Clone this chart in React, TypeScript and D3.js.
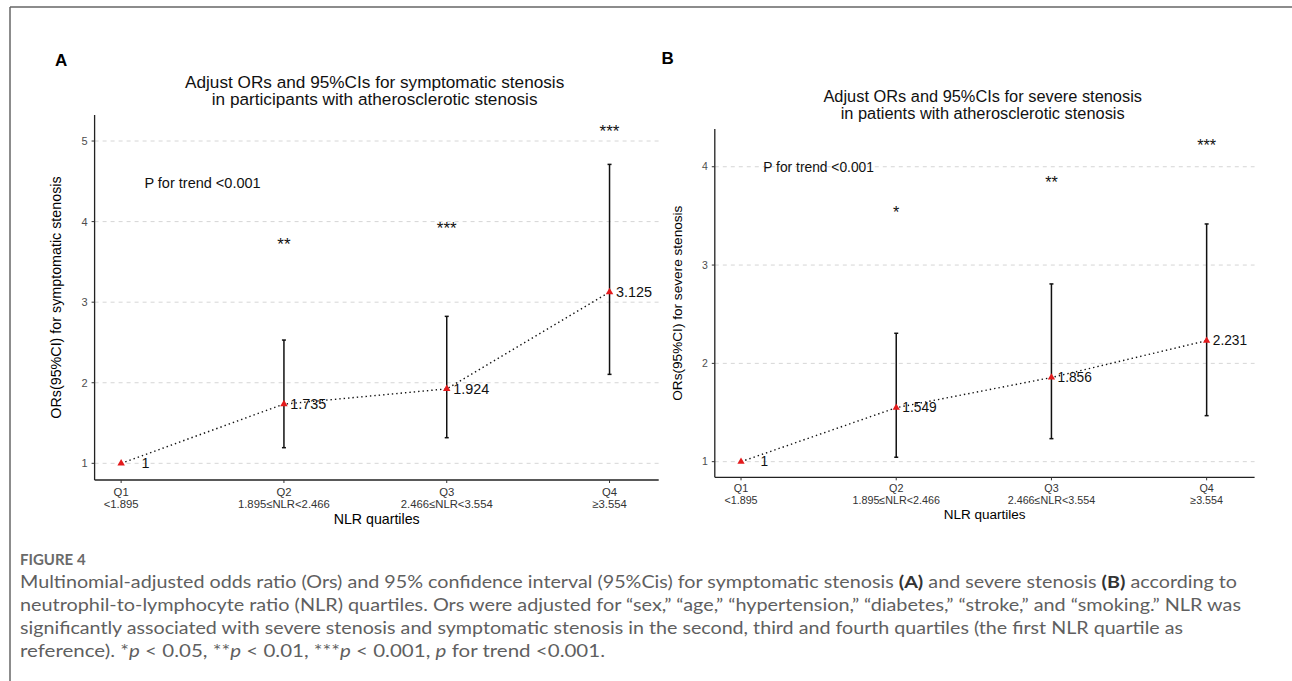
import React from "react";
import * as d3 from "d3";

const W = 1292;
const H = 681;

const quartiles = ["Q1", "Q2", "Q3", "Q4"];
const nlrRanges = ["<1.895", "1.895≤NLR<2.466", "2.466≤NLR<3.554", "≥3.554"];

// panel A - symptomatic stenosis
const orSymptomatic = [1, 1.735, 1.924, 3.125];
const lowSymptomatic = [1, 1.194, 1.318, 2.104];
const highSymptomatic = [1, 2.53, 2.824, 4.71];
const starsSymptomatic = ["", "**", "***", "***"];
const starYSymptomatic = [0, 3.77, 3.965, 5.164];
const ticksSymptomatic = [1, 2, 3, 4, 5];

// panel B - severe stenosis
const orSevere = [1, 1.549, 1.856, 2.231];
const lowSevere = [1, 1.045, 1.234, 1.468];
const highSevere = [1, 2.306, 2.808, 3.418];
const starsSevere = ["", "*", "**", "***"];
const starYSevere = [0, 3.58, 3.883, 4.256];
const ticksSevere = [1, 2, 3, 4];

const trendText = "P for trend <0.001";
const trendPos = [1.5, 4.48, 4.0]; // x, y(A), y(B)

const FONT = "'Liberation Sans', Arial, sans-serif";

let Panel = (props) => {
  let { p, or, low, high, stars, starY, ticks, trendY } = props;
  let k = p.k;
  let x = d3.scaleLinear().domain(p.xDom).range([p.left, p.right]);
  let y = d3.scaleLinear().domain(p.yDom).range([p.bottom, p.top]);
  let idx = quartiles.map((q, i) => i + 1);

  let line = d3
    .line()
    .x((d, i) => x(i + 1))
    .y((d) => y(d));

  let tri = d3.symbol(d3.symbolTriangle).size(24 * k)();

  return (
    <g fontFamily={FONT}>
      <text x={p.letterX} y={p.letterY} fontSize={17} fontWeight="bold" dominantBaseline="central">
        {p.letter}
      </text>
      {p.title.map((t, i) => (
        <text
          key={t}
          x={(p.left + p.right) / 2 - 2}
          y={p.top - 33.3 + i * 17.6}
          fontSize={17.2 * k}
          textAnchor="middle"
          dominantBaseline="central"
          fill="#111"
        >
          {t}
        </text>
      ))}

      {/* grid */}
      {ticks.map((t) => (
        <line
          key={"g" + t}
          x1={p.left}
          x2={p.right}
          y1={y(t)}
          y2={y(t)}
          stroke="#d6d6d6"
          strokeWidth={1}
          strokeDasharray="4,4"
        />
      ))}

      {/* axes */}
      <line x1={p.left} x2={p.left} y1={p.top} y2={p.bottom} stroke="#222" strokeWidth={1.3} />
      <line x1={p.left} x2={p.right} y1={p.bottom} y2={p.bottom} stroke="#222" strokeWidth={1.3} />
      {ticks.map((t) => (
        <g key={"t" + t}>
          <line x1={p.left - 3} x2={p.left} y1={y(t)} y2={y(t)} stroke="#333" />
          <text
            x={p.left - 7}
            y={y(t)}
            fontSize={11 * k}
            textAnchor="end"
            dominantBaseline="central"
            fill="#4d4d4d"
          >
            {t}
          </text>
        </g>
      ))}
      {idx.map((i) => (
        <g key={"x" + i}>
          <line x1={x(i)} x2={x(i)} y1={p.bottom} y2={p.bottom + 3} stroke="#333" />
          <text x={x(i)} y={p.bottom + 11.5 * k} fontSize={11.3 * k} textAnchor="middle" dominantBaseline="central" fill="#333">
            {quartiles[i - 1]}
          </text>
          <text x={x(i)} y={p.bottom + 23.5 * k} fontSize={11.3 * k} textAnchor="middle" dominantBaseline="central" fill="#333">
            {nlrRanges[i - 1]}
          </text>
        </g>
      ))}
      <text
        x={(p.left + p.right) / 2}
        y={p.bottom + 39.3 * k}
        fontSize={14.2 * k}
        textAnchor="middle"
        dominantBaseline="central"
      >
        NLR quartiles
      </text>
      <text
        transform={`translate(${p.yLabX},${(p.top + p.bottom) / 2}) rotate(-90)`}
        fontSize={14.3 * k}
        textAnchor="middle"
        dominantBaseline="central"
      >
        {p.yLabel}
      </text>

      {/* error bars */}
      {idx.map((i) =>
        high[i - 1] > low[i - 1] ? (
          <g key={"e" + i} stroke="#111" strokeWidth={1.5}>
            <line x1={x(i)} x2={x(i)} y1={y(low[i - 1])} y2={y(high[i - 1])} />
            <line x1={x(i) - 2} x2={x(i) + 2} y1={y(low[i - 1])} y2={y(low[i - 1])} />
            <line x1={x(i) - 2} x2={x(i) + 2} y1={y(high[i - 1])} y2={y(high[i - 1])} />
          </g>
        ) : null
      )}

      <path d={line(or)} fill="none" stroke="#111" strokeWidth={1.4} strokeDasharray="1.4,3" />

      {idx.map((i) => (
        <path key={"m" + i} d={tri} transform={`translate(${x(i)},${y(or[i - 1])})`} fill="#e31a1c" />
      ))}

      {idx.map((i) => (
        <text
          key={"l" + i}
          x={x(i + 0.15)}
          y={y(or[i - 1])}
          fontSize={14.4 * k}
          textAnchor="middle"
          dominantBaseline="central"
          fill="#111"
        >
          {or[i - 1]}
        </text>
      ))}

      {idx.map((i) =>
        stars[i - 1] ? (
          <text
            key={"s" + i}
            x={x(i)}
            y={y(starY[i - 1]) + 4 * k}
            fontSize={17 * k}
            textAnchor="middle"
            dominantBaseline="central"
            fill="#111"
          >
            {stars[i - 1]}
          </text>
        ) : null
      )}

      <text
        x={x(trendPos[0])}
        y={y(trendY)}
        fontSize={14.5 * k}
        textAnchor="middle"
        dominantBaseline="central"
        fill="#111"
      >
        {trendText}
      </text>
    </g>
  );
};

const panelA = {
  letter: "A",
  letterX: 55,
  letterY: 60,
  title: [
    "Adjust ORs and 95%CIs for symptomatic stenosis",
    "in participants with atherosclerotic stenosis",
  ],
  yLabel: "ORs(95%CI) for symptomatic stenosis",
  yLabX: 55.5,
  left: 94.6,
  right: 658.7,
  top: 115,
  bottom: 480,
  xDom: [0.837, 4.302],
  yDom: [0.793, 5.323],
  k: 1,
};

const panelB = {
  letter: "B",
  letterX: 661.6,
  letterY: 58.3,
  title: [
    "Adjust ORs and 95%CIs for severe stenosis",
    "in patients with atherosclerotic stenosis",
  ],
  yLabel: "ORs(95%CI) for severe stenosis",
  yLabX: 677.5,
  left: 714.8,
  right: 1254.6,
  top: 129,
  bottom: 477.3,
  xDom: [0.831, 4.309],
  yDom: [0.841, 4.384],
  k: 0.953,
};

const captionLines = [
  [
    ["Multinomial-adjusted odds ratio (Ors) and 95% confidence interval (95%Cis) for symptomatic stenosis ", ""],
    ["(A)", "b"],
    [" and severe stenosis ", ""],
    ["(B)", "b"],
    [" according to", ""],
  ],
  [
    [
      "neutrophil-to-lymphocyte ratio (NLR) quartiles. Ors were adjusted for \u201csex,\u201d \u201cage,\u201d \u201chypertension,\u201d \u201cdiabetes,\u201d \u201cstroke,\u201d and \u201csmoking.\u201d NLR was",
      "",
    ],
  ],
  [
    [
      "significantly associated with severe stenosis and symptomatic stenosis in the second, third and fourth quartiles (the first NLR quartile as",
      "",
    ],
  ],
  [
    ["reference). *", ""],
    ["p", "i"],
    [" < 0.05, **", ""],
    ["p", "i"],
    [" < 0.01, ***", ""],
    ["p", "i"],
    [" < 0.001, ", ""],
    ["p", "i"],
    [" for trend <0.001.", ""],
  ],
];
const captionEnds = [1237, 1241, 1183, 605];

const App = () => {
  let capX = 20;
  return (
    <svg
      width={W}
      height={H}
      style={{ position: "absolute", left: 0, top: 0, background: "#fff" }}
    >
      <rect x={0} y={0} width={W} height={H} fill="#fff" />
      <line x1={10} x2={W} y1={7} y2={7} stroke="#666" strokeWidth={1.5} />
      <line x1={10} x2={10} y1={7} y2={H} stroke="#666" strokeWidth={1.5} />

      <Panel
        p={panelA}
        or={orSymptomatic}
        low={lowSymptomatic}
        high={highSymptomatic}
        stars={starsSymptomatic}
        starY={starYSymptomatic}
        ticks={ticksSymptomatic}
        trendY={trendPos[1]}
      />
      <Panel
        p={panelB}
        or={orSevere}
        low={lowSevere}
        high={highSevere}
        stars={starsSevere}
        starY={starYSevere}
        ticks={ticksSevere}
        trendY={trendPos[2]}
      />

      <text x={capX} y={559} fontFamily="Lato, 'Open Sans', sans-serif" fontSize={15} fontWeight="bold" fill="#6a6a6a" dominantBaseline="central">
        FIGURE 4
      </text>
      {captionLines.map((parts, li) => (
        <text
          key={li}
          x={capX}
          y={581 + li * 23}
          fontFamily="Lato, 'Open Sans', sans-serif"
          fontSize={17}
          fill="#5f5f5f"
          dominantBaseline="central"
          textLength={captionEnds[li] - capX}
          lengthAdjust="spacingAndGlyphs"
        >
          {parts.map((pt, j) => (
            <tspan
              key={j}
              fontWeight={pt[1] === "b" ? "bold" : "normal"}
              fontStyle={pt[1] === "i" ? "italic" : "normal"}
              fill={pt[1] === "b" ? "#333" : undefined}
            >
              {pt[0]}
            </tspan>
          ))}
        </text>
      ))}
    </svg>
  );
};

export default App;
